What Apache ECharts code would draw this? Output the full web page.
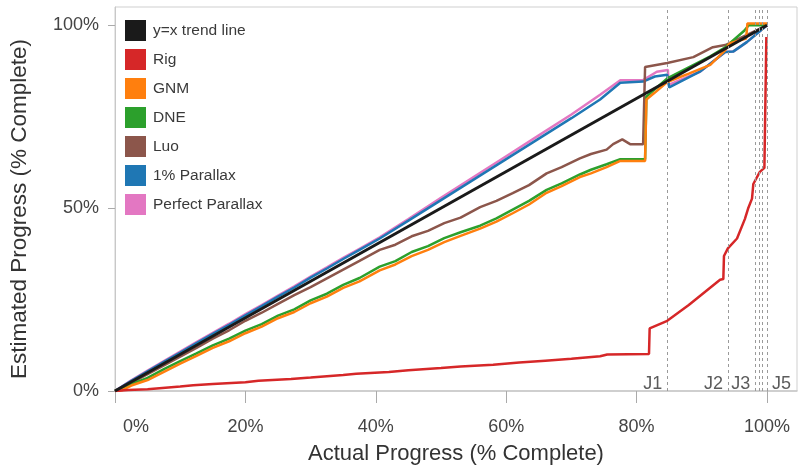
<!DOCTYPE html>
<html>
<head>
<meta charset="utf-8">
<script src="https://cdn.jsdelivr.net/npm/echarts@6/dist/echarts.min.js"></script>
<style>html,body{margin:0;padding:0;background:#fff}#c{width:800px;height:470px}</style>
</head>
<body>
<div id="c"></div>
<script>
// ---- data (x = actual %, y = estimated %) ----
const seriesNames = ['y=x trend line', 'Rig', 'GNM', 'DNE', 'Luo', '1% Parallax', 'Perfect Parallax'];
const xTicks = [0, 20, 40, 60, 80, 100];
const yTicks = [0, 50, 100];
const jobLines = [84.7, 94.0, 98.2, 98.8, 99.3, 100.0];
const jobLabelNames = ['J1', 'J2', 'J3', 'J5'];
const jobLabelX = [84.7, 94.0, 98.2, 100.0];
const jobLabelY = 1.9;

const trend = [[0, 0], [100, 100]];
const rig = [[0,0],[2,0.3],[5,0.5],[5.2,0.9],[10,1.2],[12,1.6],[15,1.9],[20,2.4],[22,2.8],[27,3.3],[30,3.7],[35,4.4],[37,4.7],[42,5.2],[45,5.7],[50,6.3],[53,6.7],[58,7.2],[62,7.8],[66,8.3],[70,8.8],[74.4,9.5],[75.5,10.0],[81.9,10.1],[82.0,17.1],[84.7,19.2],[88,23.5],[92.8,30.4],[93.3,30.6],[93.4,36.9],[94,39.0],[95.4,41.7],[96.6,47.0],[97.1,49.9],[97.7,52.6],[97.9,56.6],[98.9,59.9],[99.6,61.0],[99.9,96.8]];
const gnm = [[0,0],[1,0.2],[2.5,1.5],[5,3.0],[7.5,5.2],[10,7.5],[12.5,9.6],[15,11.8],[17.5,13.6],[20,15.8],[22.5,17.6],[25,19.9],[27.5,21.6],[30,24.0],[32.5,25.8],[35,28.2],[37.5,30.0],[40.6,33.0],[43,34.6],[45.5,36.9],[48,38.6],[50.5,40.7],[53,42.4],[56,44.4],[58.5,46.3],[61,48.6],[63.5,51.0],[66.2,54.2],[68.5,56.0],[71.3,58.5],[73,59.5],[75.4,61.2],[77.5,62.9],[81.3,62.9],[81.5,79.7],[82.8,81.6],[84.7,84.5],[88,86.8],[91.3,89.2],[93.6,93.2],[94.2,95.0],[96.8,96.4],[97.0,100.5],[100,100.5]];
const dne = [[0,0],[2.5,1.9],[5,3.6],[7.5,6.0],[10,8.2],[12.5,10.3],[15,12.5],[17.5,14.3],[20,16.5],[22.5,18.3],[25,20.6],[27.5,22.3],[30,24.8],[32.5,26.6],[35,29.0],[37.5,30.9],[40.6,34.0],[43,35.5],[45.5,38.0],[48,39.6],[50.5,41.8],[53,43.4],[56,45.2],[58.5,47.2],[61,49.6],[63.5,52.0],[66.2,55.0],[68.5,56.8],[71.3,59.2],[73,60.5],[75.4,62.0],[77.5,63.4],[81.3,63.4],[81.5,80.5],[82.8,82.5],[84.7,85.5],[88,88.5],[91.3,91.5],[93.6,94.0],[96.5,98.5],[97.2,100],[100,100]];
const luo = [[0,0],[2.5,2.2],[5,4.6],[7.5,7.0],[10,9.4],[12.5,11.8],[15,14.3],[17.5,16.6],[20,19.2],[22.5,21.4],[25,23.8],[27.5,26.2],[30,28.4],[32.5,30.8],[35,33.2],[37.5,35.6],[40.6,38.6],[43,40.0],[45.5,42.3],[48,43.8],[50.5,45.9],[53,47.4],[56,50.3],[58.5,52.0],[61,54.1],[63.5,56.3],[66.2,59.5],[68.5,61.2],[71.3,63.6],[73,64.8],[75.4,66.0],[76.4,67.5],[77.8,68.8],[79,67.5],[81,67.5],[81.3,88.6],[84.7,89.7],[88.7,91.3],[91.7,94.0],[93.6,94.6],[100,100]];
const par1 = [[0,0],[2.5,2.8],[5,5.4],[7.5,8.0],[10,10.5],[12.5,13.1],[15,15.6],[17.5,18.1],[20,20.7],[22.5,23.2],[25,25.8],[27.5,28.3],[30,31.0],[32.5,33.5],[35,36.1],[37.5,38.6],[40.6,41.7],[45,46.6],[50,52.2],[55,57.8],[60,63.4],[65,69.0],[70,74.6],[74.4,79.7],[77.5,84.3],[81,84.6],[82.8,86.0],[84.7,86.5],[85.0,83.0],[89.7,87.3],[93.6,92.7],[94.8,92.8],[96.9,95.4],[100,100]];
const parPerfect = [[0,0],[2.5,2.9],[5,5.6],[7.5,8.2],[10,10.8],[12.5,13.4],[15,15.9],[17.5,18.4],[20,21.0],[22.5,23.5],[25,26.1],[27.5,28.6],[30,31.3],[32.5,33.8],[35,36.4],[37.5,38.9],[40.6,42.0],[45,47.0],[50,52.8],[55,58.5],[60,64.2],[65,69.9],[70,75.6],[74.4,81.0],[77.5,85.0],[81,85.0],[83.1,87.3],[84.8,87.8],[84.9,83.7],[89.7,87.3],[93.6,92.7],[94.8,92.8],[96.9,95.4],[100,100]];

// ---- chart ----
const FONT = '"Liberation Sans", Arial, Helvetica, sans-serif';
const colors = {
  'y=x trend line': '#1a1a1a', 'Rig': '#d62728', 'GNM': '#ff7f0e', 'DNE': '#2ca02c',
  'Luo': '#8c564b', '1% Parallax': '#1f77b4', 'Perfect Parallax': '#e377c2'
};
const dataByName = {
  'y=x trend line': trend, 'Rig': rig, 'GNM': gnm, 'DNE': dne,
  'Luo': luo, '1% Parallax': par1, 'Perfect Parallax': parPerfect
};
// draw order (bottom -> top)
const drawOrder = ['Perfect Parallax', '1% Parallax', 'Luo', 'DNE', 'GNM', 'Rig', 'y=x trend line'];

const lineSeries = drawOrder.map(n => ({
  name: n, type: 'line', data: dataByName[n], showSymbol: false, symbol: 'none',
  color: colors[n],
  lineStyle: { width: n === 'y=x trend line' ? 3 : 2.5, color: colors[n] },
  z: 3
}));

const labelSeries = {
  name: 'jobs', type: 'scatter', symbolSize: 0, silent: true, z: 2,
  data: jobLabelX.map((x, i) => ({
    value: [x, jobLabelY],
    label: {
      show: true, formatter: jobLabelNames[i],
      position: i === jobLabelX.length - 1 ? 'right' : 'left',
      distance: 5, fontSize: 18, color: '#333', fontFamily: FONT
    }
  })),
  markLine: {
    silent: true, symbol: ['none', 'none'], animation: false,
    label: { show: false },
    lineStyle: { type: [3, 3], color: '#9a9a9a', width: 1 },
    data: jobLines.map(x => ({ xAxis: x }))
  }
};

const chart = echarts.init(document.getElementById('c'), null, { renderer: 'canvas' });
chart.setOption({
  animation: false,
  backgroundColor: '#fff',
  grid: { left: 114, right: 3, top: 7, bottom: 76, show: true, borderColor: '#cfcfcf', borderWidth: 1 },
  legend: {
    data: seriesNames, orient: 'vertical', left: 120, top: 15,
    icon: 'rect', itemWidth: 21, itemHeight: 21, itemGap: 8,
    textStyle: { fontSize: 15.5, color: '#3a3a3a', fontFamily: FONT, padding: [0, 0, 0, 2] },
    selectedMode: false
  },
  xAxis: {
    type: 'value', min: 0, max: 104.6,
    name: 'Actual Progress (% Complete)', nameLocation: 'middle', nameGap: 52,
    nameTextStyle: { fontSize: 22, color: '#333', fontFamily: FONT },
    axisLine: { show: true, lineStyle: { color: '#c8c8c8', width: 1.5 } },
    axisTick: { show: true, length: 12, customValues: xTicks, lineStyle: { color: '#aaa' } },
    axisLabel: {
      customValues: xTicks, margin: 27, fontSize: 18, color: '#444', fontFamily: FONT,
      formatter: v => v === 0 ? '{z|0%}' : v + '%',
      rich: { z: { fontSize: 18, color: '#444', fontFamily: FONT, padding: [0, 0, 0, 42] } }
    },
    splitLine: { show: false }
  },
  yAxis: {
    type: 'value', min: 0, max: 105,
    name: 'Estimated Progress (% Complete)', nameLocation: 'middle', nameGap: 84,
    nameTextStyle: { fontSize: 22.5, color: '#333', fontFamily: FONT, padding: [0, 20, 0, 0] },
    axisLine: { show: true, lineStyle: { color: '#c8c8c8', width: 1 } },
    axisTick: { show: true, length: 7, customValues: yTicks, lineStyle: { color: '#aaa' } },
    axisLabel: { customValues: yTicks, margin: 16, fontSize: 18, color: '#444', fontFamily: FONT, formatter: v => v + '%' },
    splitLine: { show: false }
  },
  series: [labelSeries].concat(lineSeries)
});
</script>
</body>
</html>
